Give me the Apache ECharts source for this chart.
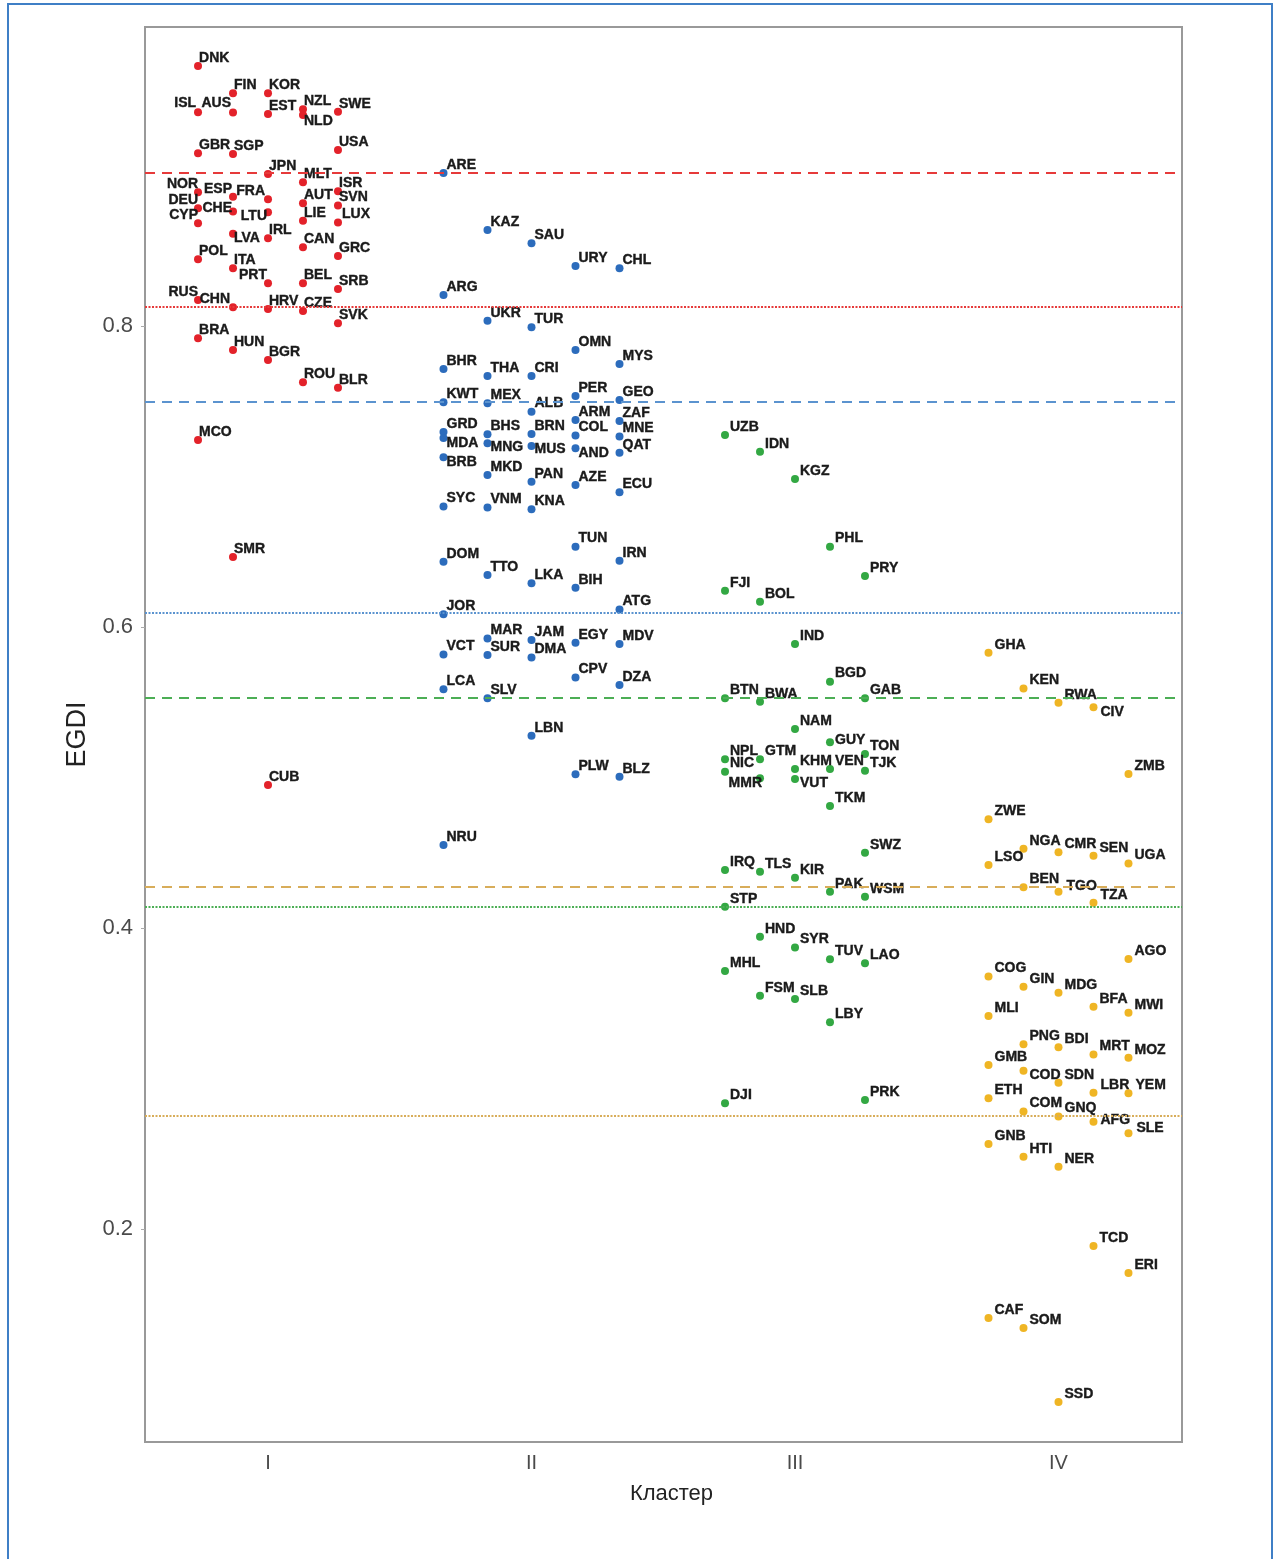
<!DOCTYPE html>
<html>
<head>
<meta charset="utf-8">
<script src="https://cdn.jsdelivr.net/npm/echarts@6/dist/echarts.min.js"></script>
<style>
html,body{margin:0;padding:0;background:#fff;}
#frame{position:absolute;left:7px;top:3px;width:1266px;height:1600px;border:2px solid #3f7fc6;box-sizing:border-box;}
#chart{position:absolute;left:0;top:0;width:1278px;height:1559px;}
</style>
</head>
<body>
<div id="frame"></div>
<div id="chart"></div>
<script>
// ---- DATA ----
const clusterNames = ['I', 'II', 'III', 'IV'];
const yTicks = [0.2, 0.4, 0.6, 0.8];

const c1Codes = ['DNK','FIN','KOR','ISL','AUS','EST','NZL','NLD','SWE','GBR','SGP','USA','JPN','MLT','NOR','ESP','FRA','DEU','CHE','LTU','CYP','ISR','SVN','AUT','LUX','LIE','LVA','IRL','CAN','GRC','POL','ITA','PRT','BEL','SRB','RUS','CHN','HRV','CZE','SVK','BRA','HUN','BGR','ROU','BLR','MCO','SMR','CUB'];
const c1Egdi  = [0.9728,0.9546,0.9546,0.9420,0.9418,0.9409,0.9440,0.9402,0.9424,0.9147,0.9143,0.9170,0.9010,0.8955,0.8889,0.8859,0.8842,0.8782,0.8760,0.8755,0.8682,0.8896,0.8800,0.8815,0.8688,0.8700,0.8613,0.8583,0.8523,0.8465,0.8443,0.8383,0.8284,0.8284,0.8246,0.8173,0.8124,0.8113,0.8100,0.8018,0.7918,0.7840,0.7774,0.7626,0.7590,0.7243,0.6465,0.4950];
const c1Slot  = [-2,-1,0,-2,-1,0,1,1,2,-2,-1,2,0,1,-2,-1,0,-2,-1,0,-2,2,2,1,2,1,-1,0,1,2,-2,-1,0,1,2,-2,-1,0,1,2,-2,-1,0,1,2,-2,-1,0];

const c2Codes = ['ARE','KAZ','SAU','URY','CHL','ARG','UKR','TUR','OMN','MYS','BHR','THA','CRI','PER','GEO','KWT','MEX','ALB','ARM','ZAF','GRD','MDA','BRB','BHS','MNG','MKD','BRN','MUS','PAN','COL','AND','AZE','MNE','QAT','ECU','SYC','VNM','KNA','TUN','DOM','IRN','TTO','LKA','BIH','JOR','ATG','MAR','SUR','JAM','DMA','EGY','MDV','VCT','CPV','DZA','LCA','SLV','LBN','PLW','BLZ','NRU'];
const c2Egdi  = [0.9017,0.8638,0.8550,0.8399,0.8383,0.8206,0.8035,0.7991,0.7841,0.7748,0.7714,0.7668,0.7668,0.7535,0.7508,0.7493,0.7486,0.7431,0.7375,0.7369,0.7295,0.7255,0.7128,0.7281,0.7221,0.7010,0.7283,0.7203,0.6965,0.7272,0.7188,0.6944,0.7265,0.7158,0.6895,0.6800,0.6794,0.6782,0.6534,0.6434,0.6440,0.6345,0.6290,0.6261,0.6084,0.6117,0.5924,0.5814,0.5914,0.5798,0.5896,0.5887,0.5818,0.5665,0.5614,0.5586,0.5526,0.5278,0.5021,0.5005,0.4551];
const c2Slot  = [-2,-1,0,1,2,-2,-1,0,1,2,-2,-1,0,1,2,-2,-1,0,1,2,-2,-2,-2,-1,-1,-1,0,0,0,1,1,1,2,2,2,-2,-1,0,1,-2,2,-1,0,1,-2,2,-1,-1,0,0,1,2,-2,1,2,-2,-1,0,1,2,-2];

const c3Codes = ['UZB','IDN','KGZ','PHL','PRY','FJI','BOL','IND','BGD','BTN','BWA','GAB','NAM','GUY','TON','TJK','NPL','NIC','GTM','MMR','KHM','VUT','VEN','TKM','SWZ','IRQ','TLS','KIR','PAK','WSM','STP','HND','SYR','TUV','LAO','MHL','FSM','SLB','LBY','DJI','PRK'];
const c3Egdi  = [0.7276,0.7165,0.6983,0.6534,0.6339,0.6241,0.6168,0.5887,0.5637,0.5526,0.5504,0.5526,0.5322,0.5234,0.5156,0.5045,0.5121,0.5039,0.5121,0.4995,0.5056,0.4990,0.5056,0.4811,0.4500,0.4385,0.4374,0.4334,0.4241,0.4208,0.4141,0.3942,0.3871,0.3792,0.3765,0.3714,0.3550,0.3528,0.3373,0.2835,0.2857];
const c3Slot  = [-2,-1,0,1,2,-2,-1,0,1,-2,-1,2,0,1,2,2,-2,-2,-1,-1,0,0,1,1,2,-2,-1,0,1,2,-2,-1,0,1,2,-2,-1,0,1,-2,2];

const c4Codes = ['GHA','KEN','RWA','CIV','ZMB','ZWE','NGA','CMR','SEN','LSO','UGA','BEN','TGO','TZA','AGO','COG','GIN','MDG','BFA','MWI','MLI','PNG','BDI','MRT','MOZ','GMB','COD','SDN','LBR','YEM','ETH','COM','GNQ','AFG','SLE','GNB','HTI','NER','TCD','ERI','CAF','SOM','SSD'];
const c4Egdi  = [0.5829,0.5592,0.5497,0.5466,0.5023,0.4722,0.4527,0.4503,0.4480,0.4418,0.4429,0.4270,0.4241,0.4168,0.3794,0.3677,0.3610,0.3570,0.3477,0.3437,0.3415,0.3227,0.3207,0.3160,0.3138,0.3090,0.3052,0.2972,0.2906,0.2902,0.2869,0.2780,0.2747,0.2713,0.2636,0.2565,0.2480,0.2414,0.1887,0.1708,0.1409,0.1342,0.0850];
const c4Slot  = [-2,-1,0,1,2,-2,-1,0,1,-2,2,-1,0,1,2,-2,-1,0,1,2,-2,-1,0,1,2,-2,-1,0,1,2,-2,-1,0,1,2,-2,-1,0,1,2,-2,-1,0];

// reference lines per cluster: [dashed (upper), dotted (lower)]
const c1Lines = [0.9017, 0.8126];
const c2Lines = [0.7495, 0.6093];
const c3Lines = [0.5528, 0.4140];
const c4Lines = [0.4272, 0.2751];

// ---- STYLE ----
const colors = ['#e3222a', '#2c6cbc', '#33a843', '#efb524'];
const lineColors = ['#e63a3a', '#5b93cf', '#4cae55', '#d8ad5a'];
const slotStep = [0.1328, 0.167, 0.1328, 0.1328];
const labelDx = [1, 3, 5, 6];
// label anchor nudges: [dx, dy, align] relative to dot centre (dy = text middle)
const nudge = {
  ISL:[-2,-9,'right'], AUS:[-2,-9,'right'], NLD:[1,6], NOR:[0,-8,'right'], ESP:[-1,-8,'right'],
  FRA:[-3,-8,'right'], DEU:[0,-8,'right'], CHE:[-1,-3,'right'], LTU:[-1,4,'right'], CYP:[0,-8,'right'],
  LUX:[4,-8], LVA:[1,4], PRT:[-1,-8,'right'], RUS:[0,-8,'right'], CHN:[-3,-8,'right'],
  MDA:[3,5], BRB:[3,5], MNG:[3,4], MUS:[3,3], AND:[3,5],
  GUY:[5,-2], MMR:[2,5,'right'], VUT:[5,4],
  CIV:[7,5], COD:[6,4], AFG:[7,-2], SLE:[8,-5], TGO:[8,-6], TZA:[7,-8], YEM:[7,-8], LBR:[7,-8]
};

const SYM = 8;
function build(ci, codes, egdi, slot) {
  return codes.map((c, i) => {
    const n = nudge[c] || [labelDx[ci], -8, 'left'];
    return {
      name: c,
      value: [ci + 1 + slot[i] * slotStep[ci], egdi[i]],
      label: { position: [SYM / 2 + n[0], SYM / 2 + n[1]], align: n[2] || 'left' }
    };
  });
}
const groups = [
  [c1Codes, c1Egdi, c1Slot, c1Lines],
  [c2Codes, c2Egdi, c2Slot, c2Lines],
  [c3Codes, c3Egdi, c3Slot, c3Lines],
  [c4Codes, c4Egdi, c4Slot, c4Lines]
];

const series = [];
groups.forEach((g, ci) => {
  series.push({
    type: 'line', data: [], z: 1, silent: true,
    markLine: {
      symbol: 'none', silent: true, animation: false, precision: 6,
      label: { show: false },
      data: [
        { yAxis: g[3][0], lineStyle: { color: lineColors[ci], type: [10, 7], width: 2.2 } },
        { yAxis: g[3][1], lineStyle: { color: lineColors[ci], type: [2, 1.5], width: 2 } }
      ]
    }
  });
});
groups.forEach((g, ci) => {
  series.push({
    type: 'scatter', z: 3,
    symbol: 'circle', symbolSize: SYM,
    itemStyle: { color: colors[ci], opacity: 1 },
    data: build(ci, g[0], g[1], g[2]),
    label: {
      show: true, formatter: '{b}',
      verticalAlign: 'middle',
      fontFamily: 'Liberation Sans, Arial, sans-serif',
      fontWeight: 'bold', fontSize: 14, color: '#1a1a1a',
      textBorderColor: '#1a1a1a', textBorderWidth: 0.4
    },
    labelLayout: { hideOverlap: false },
    animation: false
  });
});

const chart = echarts.init(document.getElementById('chart'), null, { renderer: 'canvas' });
chart.setOption({
  animation: false,
  backgroundColor: 'transparent',
  grid: { left: 145, right: 96, top: 27, bottom: 117, show: true, borderColor: '#999', borderWidth: 2, backgroundColor: '#fff' },
  xAxis: {
    type: 'value', min: 0.5332, max: 4.4687,
    splitLine: { show: false },
    axisLine: { show: false },
    axisTick: { show: false },
    axisLabel: {
      customValues: [1, 2, 3, 4], margin: 11,
      formatter: v => clusterNames[Math.round(v) - 1],
      fontFamily: 'Liberation Sans, Arial, sans-serif', fontSize: 20, color: '#4a4a4a'
    },
    name: 'Кластер', nameLocation: 'middle', nameGap: 41,
    nameTextStyle: { fontFamily: 'Liberation Sans, Arial, sans-serif', fontSize: 22, color: '#222', padding: [0, 0, 0, 16] }
  },
  yAxis: {
    type: 'value', min: 0.05847, max: 0.99867,
    splitLine: { show: false },
    axisLine: { show: false },
    axisTick: { show: true, customValues: yTicks, length: 4, lineStyle: { color: '#aaa' } },
    axisLabel: {
      customValues: yTicks, margin: 12,
      formatter: v => v.toFixed(1),
      fontFamily: 'Liberation Sans, Arial, sans-serif', fontSize: 22, color: '#4a4a4a'
    },
    name: 'EGDI', nameLocation: 'middle', nameGap: 52, nameRotate: 90,
    nameTextStyle: { fontFamily: 'Liberation Sans, Arial, sans-serif', fontSize: 27, color: '#222' }
  },
  series: series
});
</script>
</body>
</html>
